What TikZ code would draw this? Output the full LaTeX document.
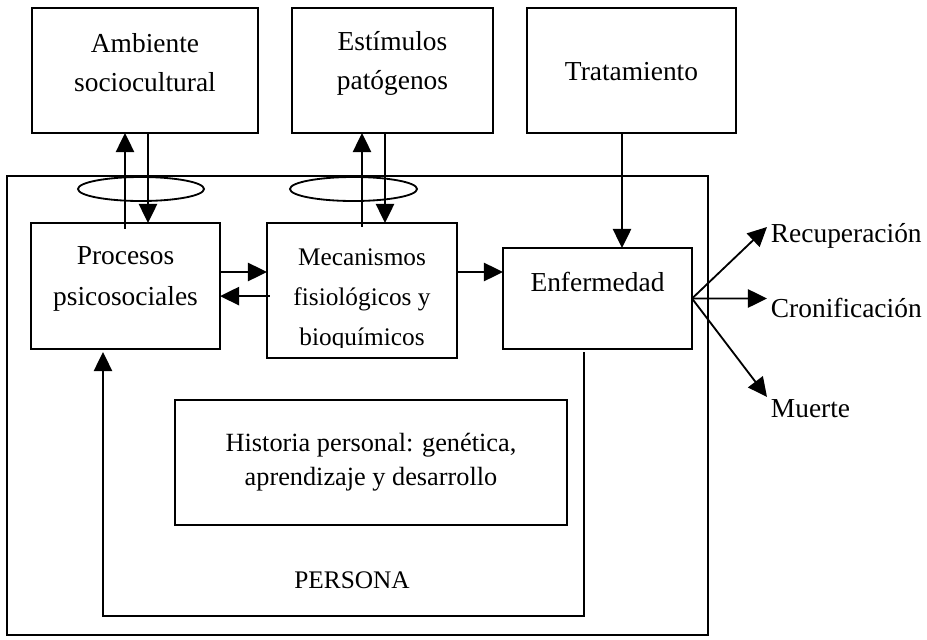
\documentclass[tikz,border=0pt]{standalone}
\usepackage{fontspec}
\setmainfont{Liberation Serif}
\usepackage{tikz}
\usetikzlibrary{arrows.meta,shapes.geometric,positioning}

\begin{document}
\begin{tikzpicture}[x=0.025cm, y=-0.025cm,
    line width=1.3pt,
    box/.style={draw, rectangle, inner sep=0pt, outer sep=0pt},
    ring/.style={draw, ellipse, inner sep=0pt, minimum height=0.6cm},
    txt/.style={align=center, inner sep=0pt, font=\fontsize{19.5}{27.7}\selectfont},
    smalltxt/.style={align=center, inner sep=0pt, font=\fontsize{18}{28.4}\selectfont},
    outtxt/.style={anchor=base west, inner sep=0pt, font=\fontsize{19.5}{24}\selectfont},
    arr/.style={-{Triangle[length=0.48cm, width=0.46cm]}}]
  \useasboundingbox (0,0) rectangle (927,639);

  \node[box, minimum width=5.65cm, minimum height=3.125cm] (amb) at (145,70.5) {};
  \node[box, minimum width=5.025cm, minimum height=3.125cm] (est) at (392.5,70.5) {};
  \node[box, minimum width=5.225cm, minimum height=3.125cm] (trat) at (631.5,70.5) {};
  \node[txt] (amb-t) at (145,62.5) {Ambiente\\sociocultural};
  \node[txt] (est-t) at (392.5,63) {Estímulos\\patógenos};
  \node[txt] (trat-t) at (631.5,72) {Tratamiento};

  \node[box, minimum width=17.525cm, minimum height=11.475cm] (persona) at (357.5,405.5) {};
  \node[ring, minimum width=3.15cm] (ring1) at (141,189) {};
  \node[ring, minimum width=3.175cm] (ring2) at (353.5,189) {};

  \node[box, minimum width=4.725cm, minimum height=3.15cm] (proc) at (125.5,286) {};
  \node[box, minimum width=4.75cm, minimum height=3.375cm] (mec) at (362,290.5) {};
  \node[box, minimum width=4.725cm, minimum height=2.525cm] (enf) at (597.5,298.5) {};
  \node[box, minimum width=9.8cm, minimum height=3.125cm] (hist) at (371,462.5) {};
  \node[txt, font=\fontsize{19.5}{29.5}\selectfont] (proc-t) at (125.5,279) {Procesos\\psicosociales};
  \begin{scope}
    \clip (mec.north west) rectangle ([yshift=0.275cm]mec.south east);
    \node[smalltxt] (mec-t) at (362,300) {Mecanismos\\fisiológicos y\\bioquímicos};
  \end{scope}
  \node[txt] (enf-t) at (597.5,282) {Enfermedad};
  \node[smalltxt, font=\fontsize{18.7}{23.8}\selectfont] (hist-t) at (371,462) {Historia personal: genética,\\aprendizaje y desarrollo};
  \node[txt, font=\fontsize{18}{24}\selectfont] (pers-t) at (352,580) {PERSONA};

  \node[outtxt] (rec) at (770,242) {Recuperación};
  \node[outtxt] (cron) at (770,317) {Cronificación};
  \node[outtxt] (muer) at (770,417) {Muerte};

  \draw[arr] ([shift={(-0.0125cm,-0.15cm)}]proc.north) -- ([xshift=-0.0125cm]proc.north |- amb.south);
  \draw[arr] ([xshift=0.5625cm]proc.north |- amb.south) -- ([xshift=0.5625cm]proc.north);
  \draw[arr] ([yshift=-0.1cm]mec.north) -- (mec.north |- est.south);
  \draw[arr] ([xshift=0.575cm]mec.north |- est.south) -- ([xshift=0.575cm]mec.north);
  \draw[arr] ([xshift=0.6125cm]enf.north |- trat.south) -- ([xshift=0.6125cm]enf.north);

  \draw[arr] ([yshift=0.35cm]proc.east) -- ([yshift=0.35cm]proc.east -| mec.west);
  \coordinate (mec-back) at ([shift={(0.075cm,-0.14cm)}]mec.west);
  \draw[arr] (mec-back) -- (mec-back -| proc.east);
  \draw[arr] ([yshift=0.4625cm]mec.east) -- ([yshift=0.4625cm]mec.east -| enf.west);

  \draw[arr] (enf.east) -- ([shift={(-0.075cm,0.375cm)}]rec.base west);
  \draw[arr] (enf.east) -- ([shift={(-0.075cm,0.4625cm)}]cron.base west);
  \draw[arr] (enf.east) -- ([shift={(-0.075cm,0.5cm)}]muer.base west);

  \coordinate (loop) at (103,616);
  \draw[arr] ([shift={(-0.3375cm,-0.075cm)}]enf.south) |- (loop)
    -- ([shift={(-0.5625cm,-0.075cm)}]proc.south);
\end{tikzpicture}
\end{document}
